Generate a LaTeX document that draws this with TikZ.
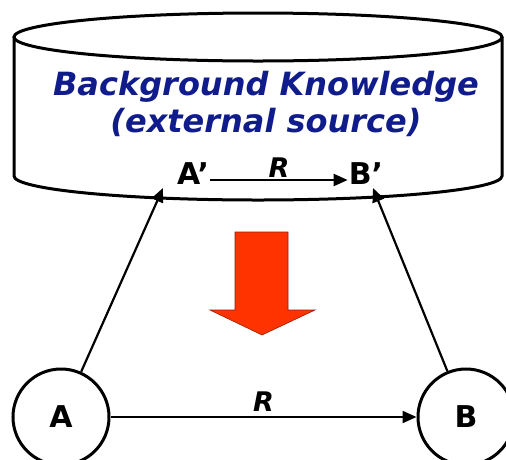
\documentclass[tikz,border=0pt]{standalone}
\usepackage{fontspec}
\setmainfont{DejaVu Sans}
\usetikzlibrary{arrows.meta}
\definecolor{kbblue}{RGB}{16,28,140}
\definecolor{arrowred}{RGB}{255,51,0}
\definecolor{arrowedge}{RGB}{150,30,0}
\tikzset{
  shell/.style={line width=3pt, draw=black},
  entity/.style={circle, line width=3pt, draw=black, minimum size=96pt, inner sep=0pt,
    font=\fontsize{30}{30}\selectfont\bfseries},
  primed/.style={inner sep=1pt, font=\fontsize{30}{30}\selectfont\bfseries},
  link/.style={line width=2.2pt, -{Triangle[length=14pt,width=12pt]}},
  rel/.style={font=\fontsize{27}{27}\selectfont\bfseries\itshape},
  title/.style={text=kbblue, align=center, font=\fontsize{32}{37}\selectfont\bfseries\itshape}
}
\begin{document}
\begin{tikzpicture}[x=1pt,y=-1pt]
  \useasboundingbox (0,0) rectangle (506,459);
  \clip (0,0) rectangle (506,459);
  % knowledge base drum
  \draw[shell] (14,37) -- (14,176) arc[start angle=180, end angle=0, x radius=244, y radius=24] -- (502,37);
  \draw[shell, fill=white] (258,37) ellipse [x radius=244, y radius=24];
  \node[title] (kb) at (266,104) {Background Knowledge\\(external source)};
  % entities inside the source
  \node[primed] (Ap) at (193,174) {A’};
  \node[primed] (Bp) at (366,174) {B’};
  \draw[link] (Ap.east |- 0,180) -- node[rel, above=-2pt] {R} (Bp.west |- 0,180);
  % transfer arrow
  \draw[fill=arrowred, draw=arrowedge, line width=0.6pt]
    (235,232) -- (288,232) -- (288,310) -- (315,310) -- (262,335) -- (210,310) -- (235,310) -- cycle;
  % entities in the text
  \node[entity] (A) at (61,417) {A};
  \node[entity] (B) at (466,417) {B};
  \coordinate (Atip) at (163,188);
  \coordinate (Btip) at (373,188);
  \draw[link] (A) -- (Atip);
  \draw[link] (B) -- (Btip);
  \draw[link] (A) -- node[rel, above=1pt] {R} (B);
\end{tikzpicture}
\end{document}
